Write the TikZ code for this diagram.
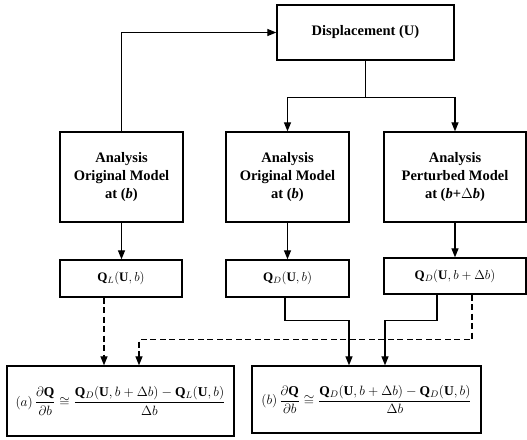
\RequirePackage{fix-cm}
\documentclass[tikz,border=0pt]{standalone}
\usepackage{fontspec}
\setmainfont{Liberation Serif}
\usetikzlibrary{arrows.meta}
\begin{document}
\begin{tikzpicture}[x=1pt,y=-1pt,
  box/.style={draw,line width=1.3pt,align=center,font=\fontsize{14.5}{18}\selectfont\bfseries,inner sep=0pt},
  mathbox/.style={box,font=\fontsize{13}{16}\selectfont},
  eqbox/.style={box,font=\fontsize{13.5}{16}\selectfont},
  conn/.style={line width=1.2pt},
  arr/.style={conn,-{Triangle[length=9pt,width=7pt]}},
  dashedline/.style={dash pattern=on 6pt off 3.5pt}]
\useasboundingbox (0,0) rectangle (527,439);
\node[box,minimum width=177pt,minimum height=55pt] (disp) at (365.5,32.5) {Displacement (U)};
\node[box,minimum width=123pt,minimum height=90pt] (a1) at (121.5,177) {Analysis\\Original Model\\at (\textit{b})};
\node[box,minimum width=123pt,minimum height=90pt] (a2) at (287.5,177) {Analysis\\Original Model\\at (\textit{b})};
\node[box,minimum width=142pt,minimum height=90pt] (a3) at (455,177) {Analysis\\Perturbed Model\\at (\textit{b}+$\Delta$\textit{b})};
\node[mathbox,minimum width=122pt,minimum height=37pt] (q1) at (121,278.5) {$\mathbf{Q}_L(\mathbf{U},b)$};
\node[mathbox,minimum width=123pt,minimum height=37pt] (q2) at (287.5,278.5) {$\mathbf{Q}_D(\mathbf{U},b)$};
\node[mathbox,minimum width=142pt,minimum height=36pt] (q3) at (455,276) {$\mathbf{Q}_D(\mathbf{U},b+\Delta b)$};
\node[eqbox,minimum width=227pt,minimum height=70pt] (ra) at (120.5,401) {$\displaystyle (a)\,\frac{\partial\mathbf{Q}}{\partial b}\cong\frac{\mathbf{Q}_D(\mathbf{U},b+\Delta b)-\mathbf{Q}_L(\mathbf{U},b)}{\Delta b}$};
\node[eqbox,minimum width=229pt,minimum height=67pt] (rb) at (366.5,399.5) {$\displaystyle (b)\,\frac{\partial\mathbf{Q}}{\partial b}\cong\frac{\mathbf{Q}_D(\mathbf{U},b+\Delta b)-\mathbf{Q}_D(\mathbf{U},b)}{\Delta b}$};
% connectors
\draw[arr] (a1.north) |- (disp.west);
\draw[conn] (disp.south) -- ++(0,37) coordinate (split);
\draw[arr] (split) -| (a2.north);
\draw[arr] (split) -| (a3.north);
\draw[arr] (a1.south) -- (a1.south |- q1.north);
\draw[arr] (a2.south) -- (q2.north);
\draw[arr] (a3.south) -- (q3.north);
\draw[arr,dashedline] ([xshift=-17pt]q1.south) -- ([xshift=-17pt]q1.south |- ra.north);
\draw[arr,dashedline] ([xshift=17pt]q3.south) -- ++(0,45) -| ([xshift=18.5pt]ra.north);
\draw[arr] ([xshift=-2.5pt]q2.south) -- ++(0,23) -| ([xshift=-17.5pt]rb.north);
\draw[arr] ([xshift=-18pt]q3.south) -- ++(0,26) -| ([xshift=18.5pt]rb.north);
\end{tikzpicture}
\end{document}
